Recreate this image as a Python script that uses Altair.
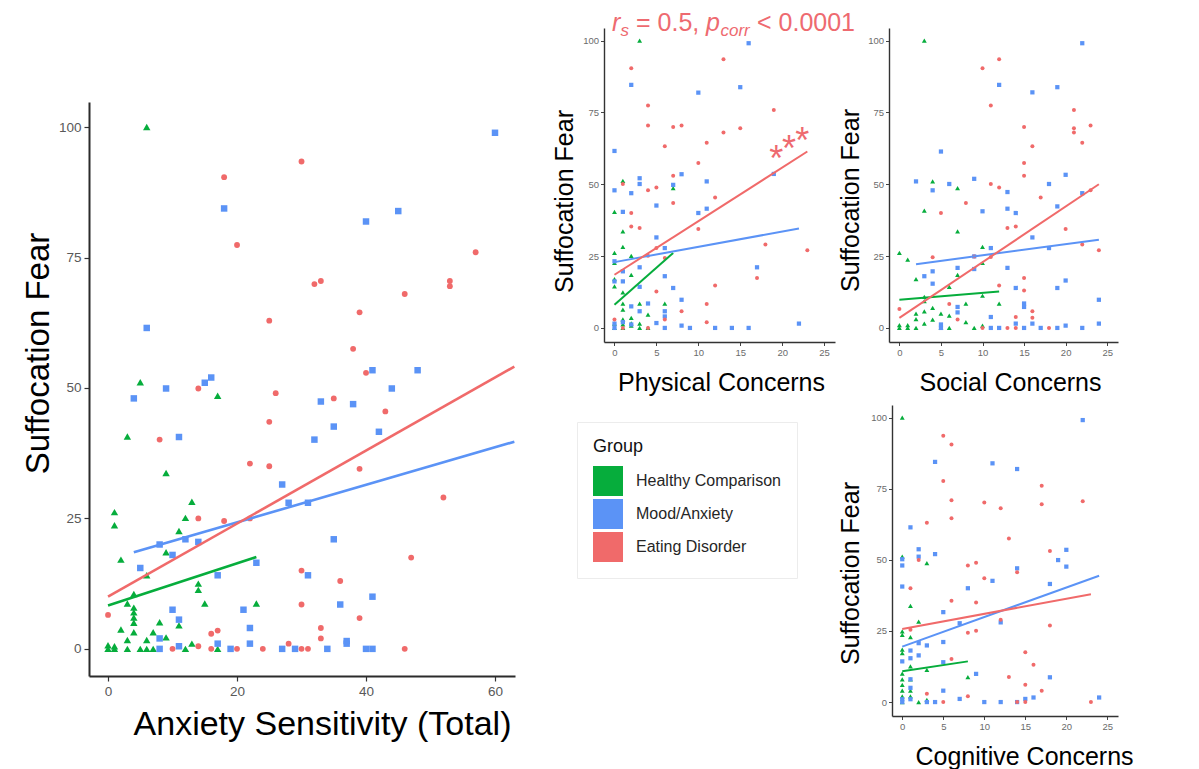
import altair as alt
import pandas as pd

GROUPS = ["Healthy Comparison", "Mood/Anxiety", "Eating Disorder"]
COLORS = ["#06AD3C", "#5B93F6", "#F06A6A"]
SHAPES = ["triangle-up", "square", "circle"]
TXT_RED = "#EE6A70"

# ---------------- main panel: Anxiety Sensitivity (Total) ----------------
main_hc_x = [6, 5, 17, 3, 9, 13, 1, 1, 12, 11, 9, 2, 6, 14, 14, 4, 3, 15, 23, 4, 4, 4, 4, 8, 11, 2, 4, 7, 6, 3, 9, 13, 0, 0, 1, 1, 3, 5, 6, 7, 12, 17]
main_hc_y = [100, 51.1, 48.5, 40.7, 33.7, 28.2, 26.2, 23.7, 25.1, 22.6, 18.5, 17.1, 14.1, 12.5, 11.3, 10.5, 8.7, 8.7, 8.7, 7.9, 7.0, 6.0, 5.0, 5.1, 4.5, 3.7, 3.2, 3.2, 1.7, 1.7, 2.2, 1.0, 0.7, 0, 0.5, 0, 0, 0, 0, 0, 0, 0]
main_ma_x = [60, 18, 40, 45, 6, 41, 48, 9, 4, 15, 16, 33, 38, 44, 35, 42, 11, 32, 27, 28, 31, 12, 14, 8, 10, 35, 5, 23, 17, 31, 41, 36, 10, 21, 11, 22, 8, 37, 37, 22, 17, 8, 11, 19, 27, 29, 34, 40, 41]
main_ma_y = [98.9, 84.4, 81.9, 83.9, 61.5, 53.4, 53.4, 49.9, 48.0, 51.0, 52.0, 47.4, 46.9, 49.9, 42.6, 41.6, 40.6, 40.1, 31.5, 28.0, 28.0, 21.0, 20.5, 20.0, 18.0, 21.0, 15.5, 16.5, 14.1, 14.1, 10.0, 8.5, 7.5, 7.5, 5.6, 4.0, 2.0, 1.5, 1.0, 1.0, 1.0, 0, 0.5, 0, 0, 0, 0, 0, 0]
main_ed_x = [30, 18, 20, 57, 32, 33, 53, 53, 46, 25, 39, 38, 40, 14, 26, 35, 43, 25, 8, 22, 25, 39, 52, 14, 18, 22, 47, 30, 36, 30, 0, 39, 33, 16, 17, 33, 28, 10, 14, 16, 20, 24, 30, 31, 46]
main_ed_y = [93.4, 90.4, 77.4, 76.0, 69.9, 70.5, 70.5, 69.5, 68.0, 62.9, 64.5, 57.5, 52.9, 49.9, 49.0, 48.0, 45.5, 43.5, 40.1, 35.5, 35.0, 34.5, 29.0, 25.0, 24.5, 25.0, 17.5, 15.0, 13.0, 8.5, 6.5, 5.9, 4.0, 2.9, 3.5, 2.0, 1.0, 0, 0.5, 0, 0, 0, 0, 0, 0]
main_fit_x = [[0, 23], [4, 63], [0, 63]]
main_fit_y = [[8.3, 17.6], [18.5, 39.7], [10.0, 54.1]]

# ---------------- Physical Concerns ----------------
phys_hc_x = [3, 1, 7, 0, 1, 1, 0, 0, 2, 2, 0, 0, 1, 1, 1, 3, 6, 4, 2, 1, 3, 0, 1, 2, 3, 4, 0, 1, 2]
phys_hc_y = [100, 51.2, 48.7, 40.4, 33.6, 28.2, 26.1, 22.6, 25.1, 18.5, 17.0, 14.5, 12.4, 8.5, 6.4, 8.5, 8.5, 4.6, 3.5, 3.0, 1.5, 0, 0, 0.8, 0, 0, 1.5, 1.2, 1.6]
phys_ma_x = [16, 2, 15, 10, 0, 3, 3, 0, 2, 8, 7, 11, 5, 1, 10, 11, 19, 5, 6, 0, 3, 17, 1, 6, 0, 1, 3, 7, 2, 3, 4, 6, 6, 8, 0, 1, 2, 5, 8, 6, 9, 12, 14, 16, 22, 0]
phys_ma_y = [99.1, 84.6, 83.8, 81.9, 61.6, 52.1, 50.1, 47.9, 46.9, 53.5, 49.8, 51.0, 42.6, 40.4, 40.0, 41.5, 53.6, 31.5, 27.8, 23.2, 21.1, 21.1, 19.7, 18.0, 16.2, 16.2, 14.3, 13.9, 7.5, 5.8, 8.5, 5.8, 4.0, 9.8, 1.5, 2.0, 1.2, 1.7, 0.8, 0, 0, 0, 0, 0, 1.5, 0]
phys_ed_x = [13, 2, 4, 19, 4, 7, 8, 15, 13, 6, 11, 10, 7, 1, 5, 4, 12, 7, 2, 2, 3, 10, 18, 23, 5, 4, 6, 17, 12, 5, 11, 8, 6, 11, 0, 4, 1]
phys_ed_y = [93.5, 90.4, 77.4, 75.9, 70.5, 69.9, 70.5, 69.5, 68.0, 63.2, 64.5, 57.4, 53.0, 50.1, 48.9, 47.9, 45.4, 43.5, 40.0, 35.3, 34.8, 34.4, 29.0, 27.0, 27.8, 25.1, 24.3, 17.4, 14.8, 12.7, 8.3, 5.8, 2.9, 2.0, 2.9, 0, 0]
phys_fit_x = [[0, 7], [0, 22], [0, 23]]
phys_fit_y = [[8.1, 26.1], [22.9, 34.6], [18.5, 61.4]]

# ---------------- Social Concerns ----------------
soc_hc_x = [3, 4, 7, 3, 7, 0, 1, 10, 10, 2, 7, 6, 3, 3, 10, 12, 8, 2, 2, 3, 4, 5, 6, 4, 3, 8, 0, 0, 1, 1, 2, 5, 6, 9, 10]
soc_hc_y = [100, 51.0, 48.7, 40.8, 33.6, 26.1, 23.8, 28.2, 22.6, 17.0, 18.5, 14.3, 10.8, 9.3, 11.2, 8.5, 8.5, 5.0, 3.1, 5.8, 7.0, 5.0, 4.3, 2.9, 1.5, 2.0, 0, 1.0, 0, 1.0, 0, 0, 0, 0, 0.8]
soc_ma_x = [22, 12, 16, 19, 5, 2, 6, 4, 9, 13, 18, 20, 22, 13, 14, 10, 19, 16, 11, 18, 9, 7, 4, 13, 9, 3, 4, 20, 14, 19, 7, 7, 15, 15, 24, 11, 5, 5, 14, 16, 20, 24, 11, 12, 15, 17, 19, 22]
soc_ma_y = [99.1, 84.6, 82.0, 83.8, 61.4, 51.0, 50.1, 47.9, 51.9, 47.3, 50.1, 53.3, 46.9, 41.5, 40.0, 40.6, 42.3, 31.5, 27.8, 27.8, 24.9, 20.9, 19.7, 20.9, 20.5, 18.0, 15.4, 16.5, 13.9, 13.9, 7.3, 5.4, 8.5, 7.3, 9.8, 3.8, 1.2, 0, 1.5, 1.5, 0.8, 1.5, 0, 0, 0, 0, 0, 0]
soc_ed_x = [12, 10, 11, 21, 15, 21, 21, 23, 22, 16, 15, 15, 11, 12, 23, 17, 8, 5, 13, 14, 20, 22, 24, 4, 9, 11, 15, 15, 12, 6, 0, 7, 14, 16, 16, 10, 13, 14, 18]
soc_ed_y = [93.5, 90.4, 77.4, 75.9, 69.9, 69.5, 68.0, 70.5, 64.5, 63.2, 57.4, 53.0, 50.1, 48.9, 47.9, 45.4, 43.5, 40.0, 34.8, 35.3, 34.4, 29.0, 27.0, 24.6, 24.9, 24.7, 17.4, 13.0, 14.8, 8.3, 6.6, 2.9, 3.8, 5.8, 3.5, 0, 0, 0, 0]
soc_fit_x = [[0, 12], [2, 24], [0, 24]]
soc_fit_y = [[9.8, 12.7], [22.2, 30.7], [3.5, 50.0]]

# ---------------- Cognitive Concerns ----------------
cog_hc_x = [0, 0, 3, 1, 2, 0, 0, 1, 0, 0, 1, 3, 8, 0, 0, 0, 0, 0, 1, 1, 1, 2, 3, 0]
cog_hc_y = [100, 51.1, 48.8, 33.8, 28.3, 24.8, 23.6, 22.8, 18.4, 17.2, 12.5, 11.3, 8.8, 10.0, 8.0, 6.0, 4.0, 2.0, 8.0, 4.0, 2.0, 0, 0.8, 0]
cog_ma_x = [22, 4, 11, 14, 1, 0, 0, 2, 2, 4, 20, 19, 20, 14, 11, 18, 8, 0, 5, 7, 12, 2, 3, 5, 1, 0, 1, 2, 5, 9, 18, 5, 7, 16, 15, 24, 1, 1, 1, 3, 4, 10, 12, 14, 0, 0]
cog_ma_y = [99.1, 84.4, 83.9, 81.9, 61.4, 50.2, 48.0, 53.7, 51.1, 52.0, 53.5, 49.9, 47.6, 47.0, 42.6, 41.5, 40.0, 40.6, 31.6, 27.7, 28.0, 20.7, 19.9, 21.1, 18.1, 14.3, 15.4, 16.4, 14.0, 9.9, 8.7, 4.0, 1.1, 1.6, 1.1, 1.6, 8.0, 5.0, 1.0, 0, 0, 0, 0, 0, 1.0, 0]
cog_ed_x = [5, 6, 5, 17, 6, 10, 17, 22, 12, 6, 3, 13, 18, 2, 9, 8, 14, 10, 1, 6, 9, 12, 18, 1, 8, 9, 6, 15, 16, 13, 15, 17, 3, 8, 5, 14, 15, 23]
cog_ed_y = [93.6, 90.5, 77.7, 76.0, 70.9, 70.1, 69.5, 70.6, 68.1, 64.6, 63.0, 57.5, 53.1, 49.9, 49.0, 48.0, 45.6, 43.5, 40.0, 35.6, 35.0, 28.9, 26.9, 25.4, 24.4, 25.1, 15.1, 17.5, 13.1, 8.8, 6.1, 4.0, 2.9, 2.0, 0, 0, 0, 0]
cog_fit_x = [[0, 8], [0, 24], [0, 23]]
cog_fit_y = [[10.8, 14.3], [19.5, 44.4], [25.7, 37.9]]

# significance stars on the Physical Concerns panel (data coordinates)
star_x = [19.3, 20.8, 22.4]
star_y = [61.4, 64.6, 67.6]

SMALL_X_TICKS = [0, 5, 10, 15, 20, 25]
Y_TICKS = [0, 25, 50, 75, 100]


def points_df(xs, ys, sizes):
    rows = []
    for g, shp, gx, gy, s in zip(GROUPS, SHAPES, xs, ys, sizes):
        for a, b in zip(gx, gy):
            rows.append({"x": a, "y": b, "group": g, "shp": shp, "sz": s})
    return pd.DataFrame(rows)


def fit_df(fx, fy):
    rows = []
    for g, gx, gy in zip(GROUPS, fx, fy):
        for a, b in zip(gx, gy):
            rows.append({"x": a, "y": b, "group": g})
    return pd.DataFrame(rows)


legend = alt.Legend(
    orient="none", legendX=488, legendY=394, title="Group",
    symbolType="square", symbolSize=900, symbolStrokeWidth=0, symbolOpacity=1,
    labelFontSize=16, labelColor="#262626", labelOffset=13, rowPadding=3,
    titleFontSize=18, titleFontWeight="normal", titleColor="#111", titlePadding=10,
    padding=16, strokeColor="#ececec", fillColor="white",
)
color_enc = alt.Color("group:N", scale=alt.Scale(domain=GROUPS, range=COLORS), legend=legend)


def panel(pdf, ldf, xs, ys, xticks, xaxis_kw, yaxis_kw, line_w, extra=None):
    xa = alt.Axis(values=xticks, grid=False, titleFontWeight="normal", titleColor="#000",
                  titleBaseline="alphabetic", titleAlign="center", labelFlush=False,
                  orient="bottom", **xaxis_kw)
    ya = alt.Axis(values=Y_TICKS, grid=False, titleFontWeight="normal", titleColor="#000",
                  titleBaseline="alphabetic", titleAlign="center", titleAngle=-90,
                  orient="left", **yaxis_kw)
    pts = alt.Chart(pdf).mark_point(filled=True, opacity=1, strokeWidth=0).encode(
        x=alt.X("x:Q", scale=xs, axis=xa),
        y=alt.Y("y:Q", scale=ys, axis=ya),
        color=color_enc,
        shape=alt.Shape("shp:N", scale=None),
        size=alt.Size("sz:Q", scale=None),
    )
    lines = alt.Chart(ldf).mark_line(strokeWidth=line_w, clip=True).encode(
        x=alt.X("x:Q", scale=xs, axis=xa),
        y=alt.Y("y:Q", scale=ys, axis=ya),
        color=color_enc,
        detail="group:N",
    )
    return alt.layer(pts, lines, *(extra or []))


def small_axes(xtitle, xt_x, yt_x, yt_y, x_off=0, y_off=0):
    common = dict(labelFontSize=9.5, labelColor="#6b6b6b", tickColor="#444", tickSize=3.5,
                  tickWidth=1, domainColor="#333", domainWidth=1.4, labelPadding=2)
    ax = dict(title=xtitle, titleFontSize=25, titleX=xt_x, titleY=48, offset=x_off, **common)
    ay = dict(title="Suffocation Fear", titleFontSize=25, titleX=yt_x, titleY=yt_y, offset=y_off, **common)
    return ax, ay


SMALL_XDOM = [-1.25, 26.3]
SMALL_YDOM = [-4.9, 104.4]
SMALL_SIZES = [24, 18, 16]
MAIN_SIZES = [55, 42, 34]

# ---------------- cell A: main panel ----------------
main_axis_x = dict(title="Anxiety Sensitivity (Total)", titleFontSize=34, titleX=233, titleY=58,
                   labelFontSize=13.5, labelColor="#595959", tickColor="#333", tickSize=5,
                   tickWidth=1.2, domainColor="#2b2b2b", domainWidth=2, labelPadding=3)
main_axis_y = dict(title="Suffocation Fear", titleFontSize=33, titleX=-41, titleY=325,
                   labelFontSize=13.5, labelColor="#595959", tickColor="#333", tickSize=5,
                   tickWidth=1.2, domainColor="#2b2b2b", domainWidth=2, labelPadding=3)
main_xs = alt.Scale(domain=[-2.95, 63.1], range=[0, 426], nice=False, zero=False)
main_ys = alt.Scale(domain=[-5.2, 104.8], range=[648, 74], nice=False, zero=False)
cell_a = panel(
    points_df([main_hc_x, main_ma_x, main_ed_x], [main_hc_y, main_ma_y, main_ed_y], MAIN_SIZES),
    fit_df(main_fit_x, main_fit_y), main_xs, main_ys, [0, 20, 40, 60],
    main_axis_x, main_axis_y, 2.6,
).properties(width=515, height=648)

# ---------------- cell B: physical concerns + annotation ----------------
one = pd.DataFrame({"v": [0]})


def piece(txt, size, x, y, italic):
    kw = dict(fontStyle="italic") if italic else {}
    return alt.Chart(one).mark_text(text=txt, fontSize=size, align="left", baseline="alphabetic",
                                    color=TXT_RED, **kw).encode(x=alt.value(x), y=alt.value(y))


ann = [
    piece("r", 25, 8, 3, True),
    piece("s", 17, 16.5, 8, True),
    piece("= 0.5,", 25, 32, 3, False),
    piece("p", 25, 102, 3, True),
    piece("corr", 17, 116.5, 8, True),
    piece("< 0.0001", 25, 153, 3, False),
]
phys_xs = alt.Scale(domain=SMALL_XDOM, range=[0, 231], nice=False, zero=False)
phys_ys = alt.Scale(domain=SMALL_YDOM, range=[314, 0], nice=False, zero=False)
stars = alt.Chart(pd.DataFrame({"x": star_x, "y": star_y})).mark_text(
    text="*", fontSize=36, baseline="alphabetic", dy=19, color=TXT_RED
).encode(x=alt.X("x:Q", scale=phys_xs), y=alt.Y("y:Q", scale=phys_ys))

pax, pay = small_axes("Physical Concerns", 117, -32, 173)
cell_b = panel(
    points_df([phys_hc_x, phys_ma_x, phys_ed_x], [phys_hc_y, phys_ma_y, phys_ed_y], SMALL_SIZES),
    fit_df(phys_fit_x, phys_fit_y), phys_xs, phys_ys, SMALL_X_TICKS,
    pax, pay, 2.0, extra=[stars] + ann,
).properties(width=285, height=314)

# ---------------- cell C: social (top) + cognitive (bottom) ----------------
soc_xs = alt.Scale(domain=SMALL_XDOM, range=[0, 229], nice=False, zero=False)
soc_ys = alt.Scale(domain=SMALL_YDOM, range=[314, 0], nice=False, zero=False)
sax, say = small_axes("Social Concerns", 121, -31, 172, x_off=-374)
soc_layer = panel(
    points_df([soc_hc_x, soc_ma_x, soc_ed_x], [soc_hc_y, soc_ma_y, soc_ed_y], SMALL_SIZES),
    fit_df(soc_fit_x, soc_fit_y), soc_xs, soc_ys, SMALL_X_TICKS, sax, say, 2.0,
)

cog_xs = alt.Scale(domain=SMALL_XDOM, range=[3, 229], nice=False, zero=False)
cog_ys = alt.Scale(domain=SMALL_YDOM, range=[688, 377], nice=False, zero=False)
cax, cay = small_axes("Cognitive Concerns", 135, -34, 545, y_off=-3)
cog_layer = panel(
    points_df([cog_hc_x, cog_ma_x, cog_ed_x], [cog_hc_y, cog_ma_y, cog_ed_y], SMALL_SIZES),
    fit_df(cog_fit_x, cog_fit_y), cog_xs, cog_ys, SMALL_X_TICKS, cax, cay, 2.0,
)

cell_c = alt.layer(soc_layer, cog_layer).resolve_scale(
    x="independent", y="independent"
).resolve_axis(x="independent", y="independent").properties(width=229, height=688)

chart = alt.hconcat(
    cell_a, cell_b, cell_c, spacing=0, bounds="flush"
).properties(
    padding={"left": 14, "top": 3, "right": 5, "bottom": 0}
).configure(
    font="Liberation Sans"
).configure_view(stroke=None)

chart.save("out.html", embed_options={"renderer": "svg", "actions": False})
